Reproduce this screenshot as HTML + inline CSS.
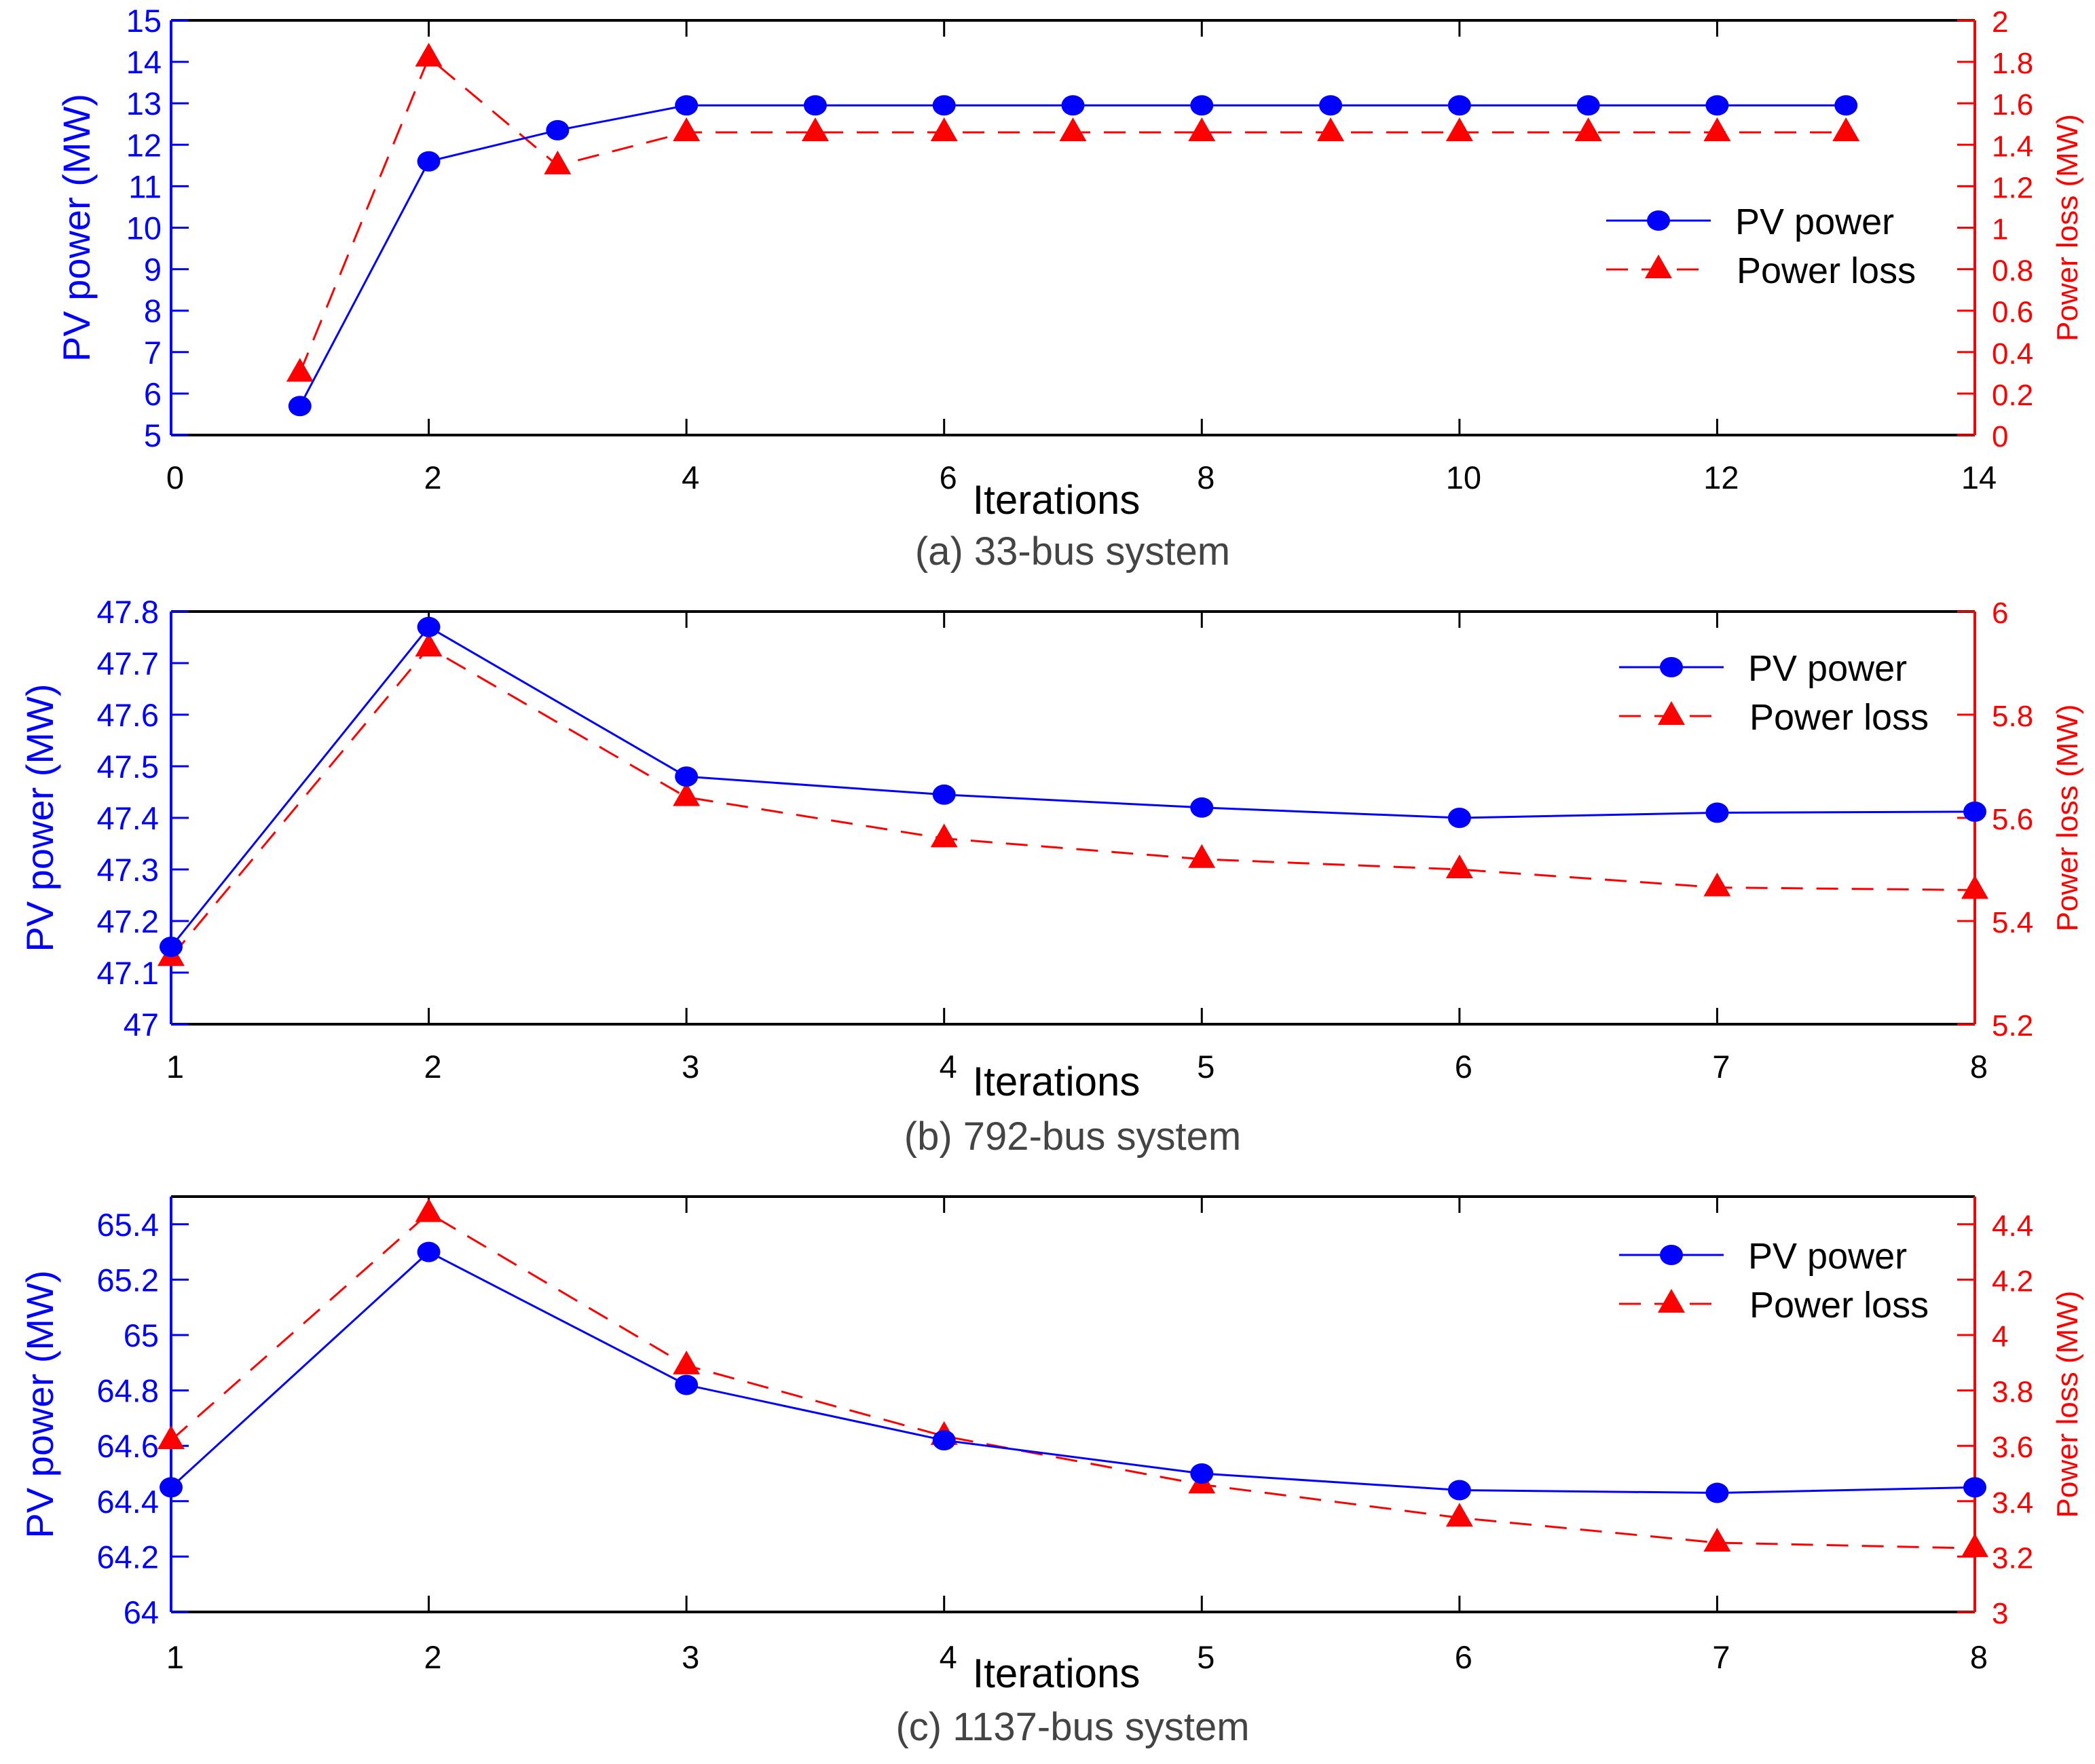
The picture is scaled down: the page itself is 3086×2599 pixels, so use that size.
<!DOCTYPE html>
<html><head><meta charset="utf-8"><style>
html,body{margin:0;padding:0;background:#fff}
svg text{font-family:"Liberation Sans",Arial,sans-serif}
</style></head><body>
<svg id="chart" xmlns="http://www.w3.org/2000/svg" width="3086" height="2594" viewBox="0 0 3086 2594"></svg>
<script>
// Panel (a) 33-bus
const aIter = [1,2,3,4,5,6,7,8,9,10,11,12,13];
const aPV = [5.7,11.6,12.35,12.95,12.95,12.95,12.95,12.95,12.95,12.95,12.95,12.95,12.95];
const aLoss = [0.3,1.82,1.3,1.46,1.46,1.46,1.46,1.46,1.46,1.46,1.46,1.46,1.46];
const aXTicks = [0,2,4,6,8,10,12,14];
const aYTicks = [5,6,7,8,9,10,11,12,13,14,15];
const aY2Ticks = [0,0.2,0.4,0.6,0.8,1,1.2,1.4,1.6,1.8,2];
// Panel (b) 792-bus
const bIter = [1,2,3,4,5,6,7,8];
const bPV = [47.15,47.77,47.48,47.445,47.42,47.40,47.41,47.412];
const bLoss = [5.33,5.93,5.64,5.56,5.52,5.50,5.465,5.46];
const bXTicks = [1,2,3,4,5,6,7,8];
const bYTicks = [47,47.1,47.2,47.3,47.4,47.5,47.6,47.7,47.8];
const bY2Ticks = [5.2,5.4,5.6,5.8,6];
// Panel (c) 1137-bus
const cIter = [1,2,3,4,5,6,7,8];
const cPV = [64.45,65.3,64.82,64.62,64.50,64.44,64.43,64.45];
const cLoss = [3.62,4.44,3.89,3.635,3.46,3.34,3.25,3.23];
const cXTicks = [1,2,3,4,5,6,7,8];
const cYTicks = [64,64.2,64.4,64.6,64.8,65,65.2,65.4];
const cY2Ticks = [3,3.2,3.4,3.6,3.8,4,4.2,4.4];

const NS="http://www.w3.org/2000/svg";
const svg=document.getElementById('chart');
function mk(tag,attrs,parent,text){const e=document.createElementNS(NS,tag);for(const k in attrs)e.setAttribute(k,attrs[k]);if(text!==undefined)e.textContent=text;(parent||svg).appendChild(e);return e;}

function panel(cfg){
  const g=mk('g',{});
  
  
  const L=252,R=2909,T=cfg.T,B=cfg.B;
  const xs=v=>L+(v-cfg.xMin)/(cfg.xMax-cfg.xMin)*(R-L);
  const ys=v=>B-(v-cfg.yMin)/(cfg.yMax-cfg.yMin)*(B-T);
  const y2s=v=>B-(v-cfg.y2Min)/(cfg.y2Max-cfg.y2Min)*(B-T);
  const fr=mk('line',{x1:L,y1:T,x2:R,y2:T,stroke:'#000','stroke-width':4},g);
  
  
  const xa=mk('line',{x1:L,y1:B,x2:R,y2:B,stroke:'#000','stroke-width':4},g);
  
  
  cfg.xTicks.forEach(t=>{
    const x=xs(t);
    mk('line',{x1:x,y1:B,x2:x,y2:B-24,stroke:'#000','stroke-width':3},g);
    mk('line',{x1:x,y1:T,x2:x,y2:T+24,stroke:'#000','stroke-width':3},g);
    const tl=mk('text',{x:x+6,y:cfg.xLabY,'font-size':47,'text-anchor':'middle',fill:'#000'},g,String(t));
    
    
  });
  const la=mk('line',{x1:L,y1:T,x2:L,y2:B,stroke:'#0000ff','stroke-width':4},g);
  
  
  cfg.yTicks.forEach(t=>{
    const y=ys(t);
    mk('line',{x1:L,y1:y,x2:L+26,y2:y,stroke:'#0000ff','stroke-width':3},g);
    const tl=mk('text',{x:cfg.yLabX,y:y+17,'font-size':47,'text-anchor':'end',fill:'#0000ff'},g,String(t));
    
    
  });
  const ra=mk('line',{x1:R,y1:T,x2:R,y2:B,stroke:'#ff0000','stroke-width':4},g);
  
  
  cfg.y2Ticks.forEach(t=>{
    const y=y2s(t);
    mk('line',{x1:R,y1:y,x2:R-26,y2:y,stroke:'#ff0000','stroke-width':3},g);
    const tl=mk('text',{x:2934,y:y+17,'font-size':44,'text-anchor':'start',fill:'#ff0000'},g,String(t));
    
    
  });
  const lt=mk('text',{x:0,y:0,'font-size':56,'text-anchor':'middle',fill:'#0000ff',transform:`translate(${cfg.yTitleX},${(T+B)/2}) rotate(-90)`},g,'PV power (MW)');
  
  
  const rt=mk('text',{x:0,y:0,'font-size':44,'text-anchor':'middle',fill:'#ff0000',transform:`translate(3060,${(T+B)/2}) rotate(-90)`},g,'Power loss (MW)');
  
  
  const xt=mk('text',{x:1556,y:cfg.xTitleY,'font-size':60,'text-anchor':'middle',fill:'#000'},g,'Iterations');
  
  
  const cap=mk('text',{x:1580,y:cfg.capY,'font-size':58,'text-anchor':'middle',fill:'#444'},g,cfg.caption);
  
  
  const lp=mk('polyline',{points:cfg.iter.map((v,i)=>xs(v)+','+y2s(cfg.loss[i])).join(' '),fill:'none',stroke:'#ff0000','stroke-width':3,'stroke-dasharray':'32 20'},g);
  
  
  cfg.iter.forEach((v,i)=>{
    const x=xs(v),y=y2s(cfg.loss[i]);
    const m=mk('polygon',{points:`${x},${y-22} ${x-20},${y+13} ${x+20},${y+13}`,fill:'#ff0000'},g);
    
    
  });
  const pp=mk('polyline',{points:cfg.iter.map((v,i)=>xs(v)+','+ys(cfg.pv[i])).join(' '),fill:'none',stroke:'#0000ff','stroke-width':3},g);
  
  
  cfg.iter.forEach((v,i)=>{
    const m=mk('ellipse',{cx:xs(v),cy:ys(cfg.pv[i]),rx:17,ry:15,fill:'#0000ff'},g);
    
    
  });
  const lg=mk('g',{},g);
  
  
  const lx=cfg.legX, ly1=cfg.legY, ly2=cfg.legY+72, mx=lx+77;
  mk('line',{x1:lx,y1:ly1,x2:lx+154,y2:ly1,stroke:'#0000ff','stroke-width':3},lg);
  mk('ellipse',{cx:mx,cy:ly1,rx:17,ry:15,fill:'#0000ff'},lg);
  const e1=mk('text',{x:lx+190,y:ly1+20,'font-size':54,fill:'#000'},lg,'PV power');
  
  
  mk('line',{x1:lx,y1:ly2,x2:lx+154,y2:ly2,stroke:'#ff0000','stroke-width':3,'stroke-dasharray':'32 20'},lg);
  mk('polygon',{points:`${mx},${ly2-22} ${mx-20},${ly2+13} ${mx+20},${ly2+13}`,fill:'#ff0000'},lg);
  const e2=mk('text',{x:lx+192,y:ly2+20,'font-size':54,fill:'#000'},lg,'Power loss');
  
  
}

panel({id:'panel-a',T:30,B:641,xMin:0,xMax:14,yMin:5,yMax:15,y2Min:0,y2Max:2,iter:aIter,pv:aPV,loss:aLoss,xTicks:aXTicks,yTicks:aYTicks,y2Ticks:aY2Ticks,xLabY:720,yLabX:238,yTitleX:132,xTitleY:757,capY:832,caption:'(a) 33-bus system',legX:2366,legY:325});
panel({id:'panel-b',T:901,B:1509,xMin:1,xMax:8,yMin:47,yMax:47.8,y2Min:5.2,y2Max:6,iter:bIter,pv:bPV,loss:bLoss,xTicks:bXTicks,yTicks:bYTicks,y2Ticks:bY2Ticks,xLabY:1588,yLabX:234,yTitleX:78,xTitleY:1614,capY:1694,caption:'(b) 792-bus system',legX:2385,legY:983});
panel({id:'panel-c',T:1763,B:2375,xMin:1,xMax:8,yMin:64,yMax:65.5,y2Min:3,y2Max:4.5,iter:cIter,pv:cPV,loss:cLoss,xTicks:cXTicks,yTicks:cYTicks,y2Ticks:cY2Ticks,xLabY:2458,yLabX:234,yTitleX:78,xTitleY:2486,capY:2564,caption:'(c) 1137-bus system',legX:2385,legY:1849});
</script>
</body></html>
